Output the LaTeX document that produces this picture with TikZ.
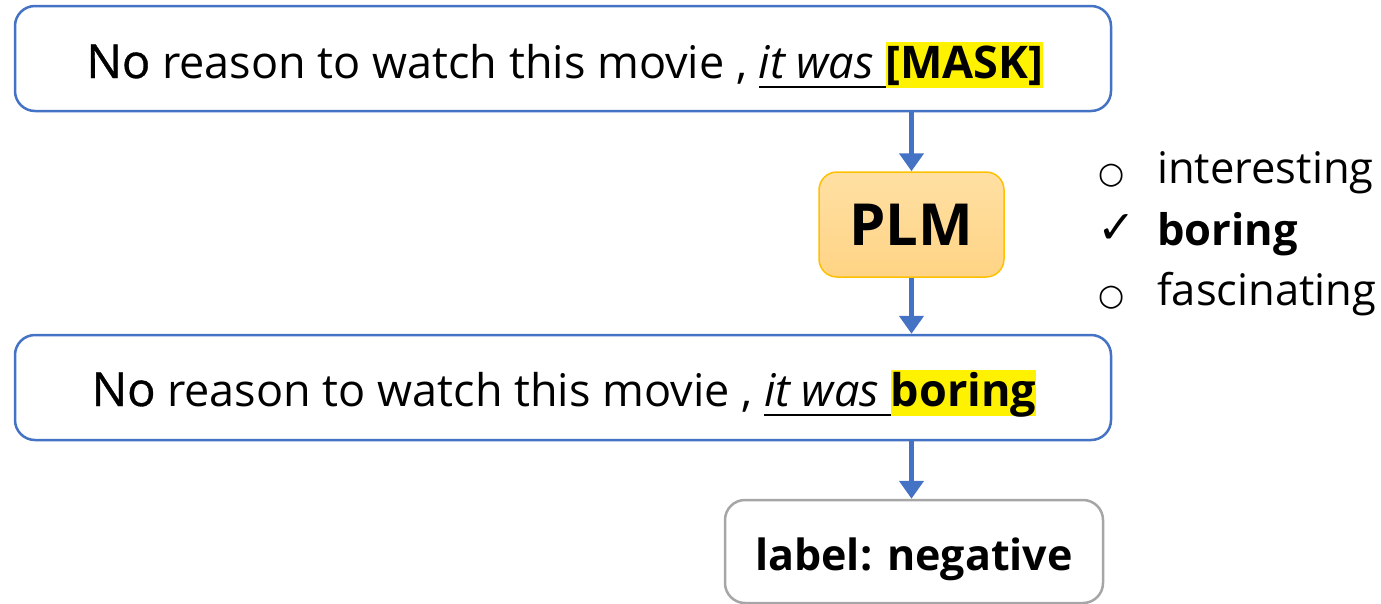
\documentclass[tikz,border=0pt]{standalone}
\usepackage{fontspec}
\setmainfont{Open Sans}
\newfontfamily\symfont{DejaVu Sans}
\usetikzlibrary{arrows.meta}
\definecolor{boxblue}{HTML}{4472C4}
\definecolor{plmfill}{HTML}{FFD88C}
\definecolor{plmedge}{HTML}{FFC000}
\definecolor{labgray}{HTML}{A6A6A6}
\newcommand\myul[1]{\setbox0\hbox{#1}\rlap{\rule[-10pt]{\wd0}{2pt}}\box0}
\newcommand\myhl[1]{\setbox0\hbox{#1}\rlap{\color{yellow}\rule[-10pt]{\wd0}{46pt}}\box0}
\newcommand\myno{{\fontsize{47}{50}\selectfont\addfontfeature{FakeBold=0.7}No}}
\tikzset{
  sentbox/.style={draw=boxblue, line width=2.5pt, rounded corners=20pt, minimum width=1096pt, minimum height=105pt, inner sep=0pt, fill=white},
  plmbox/.style={draw=plmedge, line width=1.5pt, rounded corners=18pt, top color=plmfill!80!white, bottom color=plmfill!95!orange, minimum width=185pt, minimum height=105pt, inner sep=0pt},
  labbox/.style={draw=labgray, line width=2.5pt, rounded corners=20pt, minimum width=378pt, minimum height=103pt, inner sep=0pt},
  flow/.style={draw=boxblue, line width=5pt, -{Triangle[width=24pt,length=18pt]}},
  opt/.style={anchor=base west, inner sep=0pt, font=\fontsize{43.5}{50}\selectfont},
  sent/.style={anchor=base, inner sep=0pt, font=\fontsize{45}{50}\selectfont}
}
\begin{document}
\begin{tikzpicture}[x=1pt,y=-1pt]
\useasboundingbox (0,0) rectangle (1381,603);
\node[sentbox] (top) at (563,58.5) {};
\node[sent] (toptext) at (565,78) {\myno{} reason to watch this movie , \myul{\textit{it was} \myhl{\textbf{[MASK]}}}};
\node[plmbox, font=\fontsize{58}{66}\selectfont\bfseries] (plm) at (911.5,224.5) {PLM};
\node[sentbox] (bot) at (563,387.5) {};
\node[sent] (bottext) at (564,406) {\myno{} reason to watch this movie , \myul{\textit{it was} \myhl{\textbf{boring}}}};
\node[labbox] (lab) at (914,551.5) {};
\node[anchor=base, inner sep=0pt, font=\fontsize{43}{48}\selectfont\bfseries] (labtext) at (914,570) {label: negative};
\draw[flow] (plm.north |- top.south) -- (plm.north);
\draw[flow] (plm.south) -- (plm.south |- bot.north);
\draw[flow] (plm.center |- bot.south) -- (plm.center |- lab.north);
\node[opt] (c1) at (1098,183) {\symfont\fontsize{30}{36}\selectfont ○};
\node[opt] (o1) at (1157,183) {interesting};
\node[opt] (c2) at (1097,243) {\symfont\fontsize{46}{50}\selectfont ✓};
\node[opt, font=\fontsize{43.5}{50}\selectfont\bfseries] (o2) at (1157,245) {boring};
\node[opt] (c3) at (1098,305) {\symfont\fontsize{30}{36}\selectfont ○};
\node[opt] (o3) at (1157,305) {fascinating};
\end{tikzpicture}
\end{document}
